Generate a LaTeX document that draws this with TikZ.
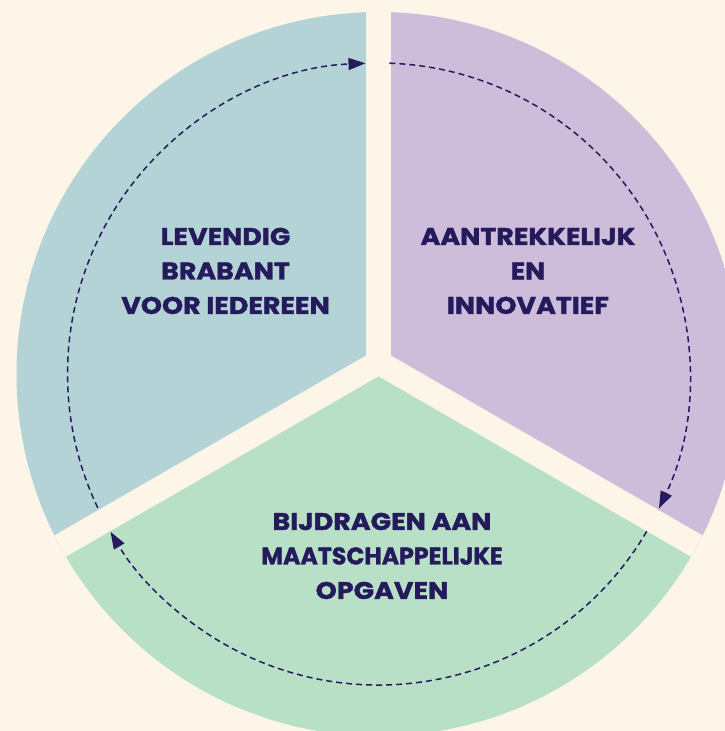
\documentclass[tikz,border=0pt]{standalone}
\usepackage{graphicx}
\usepackage{fontspec}
\setmainfont{Poppins}[BoldFeatures={FakeStretch=1.12, FakeBold=1.5}]
\usetikzlibrary{arrows.meta,calc}
\definecolor{bg}{HTML}{FDF6E8}
\definecolor{cblue}{HTML}{B4D3D6}
\definecolor{cpurple}{HTML}{CDBDDB}
\definecolor{cgreen}{HTML}{B8E0C6}
\definecolor{navy}{HTML}{241A5C}
\begin{document}
\begin{tikzpicture}[x=1pt,y=1pt,
  lbl/.style={text=navy, font=\bfseries\fontsize{24}{34.5}\selectfont, align=center, inner sep=0pt},
  flow/.style={draw=navy, line width=1.5pt, dash pattern=on 6pt off 4pt, -{Triangle[length=17pt,width=12pt]}},
  gapline/.style={draw=bg, line width=24.2pt, line cap=round}]
\fill[bg] (0,0) rectangle (725,731);
\useasboundingbox (0,0) rectangle (725,731);
\coordinate (O) at (378.5,357);
\coordinate (Y) at (378.5,368.7);
\begin{scope}
  \clip (O) circle[radius=362];
  \fill[cblue] (Y) -- ($(Y)+(90:800)$) -- ($(Y)+(150:1000)$) -- ($(Y)+(210:800)$) -- cycle;
  \fill[cpurple] (Y) -- ($(Y)+(90:800)$) -- ($(Y)+(30:1000)$) -- ($(Y)+(-30:800)$) -- cycle;
  \fill[cgreen] (Y) -- ($(Y)+(210:800)$) -- ($(Y)+(270:1000)$) -- ($(Y)+(-30:800)$) -- cycle;
  \draw[gapline] (Y) -- ($(Y)+(90:800)$);
  \draw[gapline] (Y) -- ($(Y)+(210:800)$);
  \draw[gapline] (Y) -- ($(Y)+(-30:800)$);
\end{scope}
\coordinate (b0) at ($(O)+(205.5:311)$);
\coordinate (p0) at ($(O)+(88:311)$);
\coordinate (g0) at ($(O)+(-30.4:311)$);
\draw[flow] (b0) arc[start angle=205.5, end angle=92.4, radius=311];
\draw[flow] (p0) arc[start angle=88, end angle=-25.6, radius=311];
\draw[flow] (g0) arc[start angle=-30.4, end angle=-149.5, radius=311];
\node[lbl] (left) at (225.5,460) {LEVENDIG\\BRABANT\\VOOR IEDEREEN};
\node[lbl] (right) at (528,460) {AANTREKKELIJK\\EN\\INNOVATIEF};
\node[lbl] (bottom) at (382,175) {BIJDRAGEN AAN\\\scalebox{0.88}[1]{MAATSCHAPPELIJKE}\\OPGAVEN};
\end{tikzpicture}
\end{document}
